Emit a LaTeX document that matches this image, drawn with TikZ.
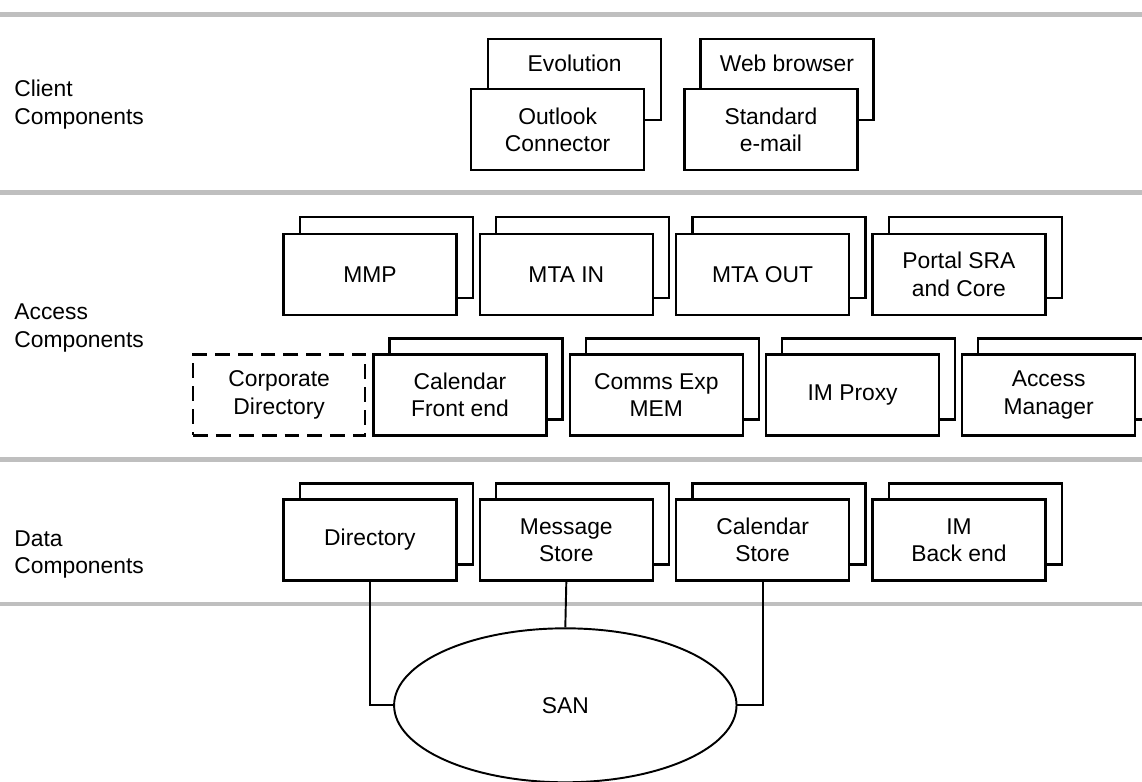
\documentclass[tikz,border=0pt]{standalone}
\usepackage{fontspec}
\setmainfont{Liberation Sans}
\usetikzlibrary{shapes.geometric}
\tikzstyle{comp} = [rectangle, draw=black, line width=1.3pt, fill=white, minimum width=3.46cm, minimum height=1.62cm, inner sep=0pt, align=center, anchor=north west, font=\fontsize{13}{15.5}\selectfont]
\tikzstyle{optional} = [comp, dash pattern=on 8.5pt off 4.5pt]
\tikzstyle{tier} = [draw=gray!50, line width=2.8pt]
\tikzstyle{tierlabel} = [anchor=west, align=left, inner sep=0pt, font=\fontsize{13}{15.5}\selectfont]
\tikzstyle{plain} = [inner sep=0pt, font=\fontsize{13}{15.5}\selectfont]
\tikzstyle{wire} = [draw=black, line width=1.1pt]

\begin{document}
\begin{tikzpicture}[x=0.02cm, y=-0.02cm]

        \useasboundingbox (0,0) rectangle (1142,781);

        % tiers
        \draw[tier] (0,14.5) -- (1142,14.5);
        \draw[tier] (0,192.5) -- (1142,192.5);
        \draw[tier] (0,459.5) -- (1142,459.5);
        \draw[tier] (0,604) -- (1142,604);

        \node (lclient) [tierlabel] at (14,104.5) {Client\\Components};
        \node (laccess) [tierlabel] at (14,328) {Access\\Components};
        \node (ldata) [tierlabel] at (14,554.5) {Data\\Components};

        % client components
        \node (evo) [comp] at (487,38) {};
        \node (evotext) [plain] at ([yshift=-0.5cm]evo.north) {Evolution};
        \node (outlook) [comp] at (470,88) {Outlook\\Connector};
        \node (web) [comp] at (699.3,38) {};
        \node (webtext) [plain] at ([yshift=-0.5cm]web.north) {Web browser};
        \node (mail) [comp] at (683.3,88) {Standard\\e-mail};

        % access components
        \node (mmpB) [comp] at (298.7,216) {};
        \node (mmp) [comp] at (282.3,232.7) {MMP};
        \node (mtainB) [comp] at (495,216) {};
        \node (mtain) [comp] at (478.7,232.7) {MTA IN};
        \node (mtaoutB) [comp] at (691.3,216) {};
        \node (mtaout) [comp] at (675,232.7) {MTA OUT};
        \node (portalB) [comp] at (887.7,216) {};
        \node (portal) [comp] at (871.3,232.7) {Portal SRA\\and Core};

        \node (corpdir) [optional, minimum width=3.44cm] at (192,353.3) {Corporate\\Directory};
        \node (calfeB) [comp] at (388.3,337.3) {};
        \node (calfe) [comp] at (372.3,353.3) {Calendar\\Front end};
        \node (memB) [comp] at (584.7,337.3) {};
        \node (mem) [comp] at (568.7,353.3) {Comms Exp\\MEM};
        \node (improxyB) [comp] at (781,337.3) {};
        \node (improxy) [comp] at (765,353.3) {IM Proxy};
        \node (amB) [comp] at (977,337.3) {};
        \node (am) [comp] at (961,353.3) {Access\\Manager};

        % data components
        \node (dirB) [comp] at (298.7,482.3) {};
        \node (dir) [comp] at (282.3,498.3) {Directory};
        \node (msgB) [comp] at (495,482.3) {};
        \node (msg) [comp] at (478.7,498.3) {Message\\Store};
        \node (calsB) [comp] at (691.3,482.3) {};
        \node (cals) [comp] at (675,498.3) {Calendar\\Store};
        \node (imbeB) [comp] at (887.7,482.3) {};
        \node (imbe) [comp] at (871.3,498.3) {IM\\Back end};

        % storage
        \node (san) [ellipse, draw=black, line width=1.1pt, minimum width=6.85cm, minimum height=3.08cm, inner sep=0pt, font=\fontsize{13}{15.5}\selectfont] at (565.3,705.3) {SAN};

        \draw[wire] (dir.south) |- (san.west);
        \draw[wire] (msg.south) -- (san.north);
        \draw[wire] (cals.south) |- (san.east);

    \end{tikzpicture}
\end{document}
